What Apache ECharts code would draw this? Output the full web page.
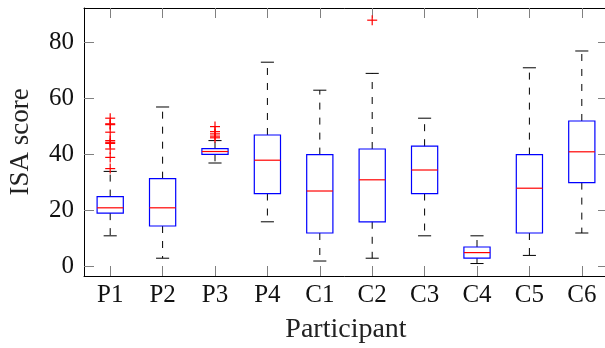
<!DOCTYPE html>
<html>
  <head>
    <title></title>
    <meta charset="UTF-8" />
    <script src="https://cdn.jsdelivr.net/npm/echarts@6/dist/echarts.min.js"></script>
    <style>
      html, body { margin: 0; padding: 0; background: #fff; }
    </style>
  </head>
  <body>
    <div id="main"></div>
    <script>
      const width = 605;
      const height = 348;
      const main = document.getElementById('main');
      main.style.width = `${width}px`;
      main.style.height = `${height}px`;

      const categories = ['P1', 'P2', 'P3', 'P4', 'C1', 'C2', 'C3', 'C4', 'C5', 'C6'];
      const lowWhisker = [11, 3, 37, 16, 2, 3, 11, 1.1, 4, 12];
      const q1 = [19.1, 14.5, 40.1, 26.1, 12, 16, 26.1, 3, 12, 30];
      const median = [21, 21, 41.1, 38, 27, 31, 34.5, 5, 28, 41];
      const q3 = [25, 31.4, 42.1, 47, 40, 42, 43, 7, 40, 52];
      const highWhisker = [34, 57, 45, 73, 63, 69, 53, 11, 71, 77];

      // fliers per participant
      const p1Outliers = [53, 51, 50.7, 48, 45, 44.4, 44, 42, 39, 35];
      const p3Outliers = [50, 48.2, 47.4, 46.6, 46];
      const c2Outliers = [88];

      const yTicks = [0, 20, 40, 60, 80];

      const boxData = categories.map((c, i) => [
        i, lowWhisker[i], q1[i], median[i], q3[i], highWhisker[i]
      ]);
      const outlierData = [];
      p1Outliers.forEach(v => outlierData.push([0, v]));
      p3Outliers.forEach(v => outlierData.push([2, v]));
      c2Outliers.forEach(v => outlierData.push([5, v]));

      const font = 'Liberation Serif';
      const tickColor = '#808080';
      const yMin = -3.35;
      const yMax = 92.35;

      function renderBox(params, api) {
        const idx = api.value(0);
        const band = api.size([1, 0])[0];
        const half = band * 0.25;
        const cap = band * 0.125;
        const pLow = api.coord([idx, api.value(1)]);
        const pQ1 = api.coord([idx, api.value(2)]);
        const pMed = api.coord([idx, api.value(3)]);
        const pQ3 = api.coord([idx, api.value(4)]);
        const pHigh = api.coord([idx, api.value(5)]);
        const x = pMed[0];
        const black = { stroke: '#000', lineWidth: 1 };
        const dashed = { stroke: '#000', lineWidth: 1, lineDash: [7, 8] };
        return {
          type: 'group',
          children: [
            { type: 'line', shape: { x1: x, y1: pQ3[1], x2: x, y2: pHigh[1] }, style: dashed },
            { type: 'line', shape: { x1: x, y1: pQ1[1], x2: x, y2: pLow[1] }, style: dashed },
            { type: 'line', shape: { x1: x - cap, y1: pHigh[1], x2: x + cap, y2: pHigh[1] }, style: black },
            { type: 'line', shape: { x1: x - cap, y1: pLow[1], x2: x + cap, y2: pLow[1] }, style: black },
            {
              type: 'rect',
              shape: { x: x - half, y: pQ3[1], width: half * 2, height: pQ1[1] - pQ3[1] },
              style: { fill: 'none', stroke: '#0000ff', lineWidth: 1.2 }
            },
            {
              type: 'line',
              shape: { x1: x - half, y1: pMed[1], x2: x + half, y2: pMed[1] },
              style: { stroke: '#ff0000', lineWidth: 1.2 }
            }
          ]
        };
      }

      function renderPlus(params, api) {
        const p = api.coord([api.value(0), api.value(1)]);
        const r = 5;
        const st = { stroke: '#ff0000', lineWidth: 1.2 };
        return {
          type: 'group',
          children: [
            { type: 'line', shape: { x1: p[0] - r, y1: p[1], x2: p[0] + r, y2: p[1] }, style: st },
            { type: 'line', shape: { x1: p[0], y1: p[1] - r, x2: p[0], y2: p[1] + r }, style: st }
          ]
        };
      }

      const myChart = echarts.init(main);
      const option = {
        animation: false,
        textStyle: { fontFamily: font, color: '#111' },
        grid: { left: 84, top: 8, width: 524, height: 268, outerBoundsMode: 'none' },
        xAxis: [
          {
            type: 'category',
            data: categories,
            position: 'bottom',
            name: 'Participant',
            nameLocation: 'middle',
            nameGap: 40,
            nameTextStyle: { fontFamily: font, fontSize: 28, color: '#222' },
            axisLine: { onZero: false, lineStyle: { color: '#000', width: 1 } },
            axisTick: { show: true, inside: true, length: 10, alignWithLabel: true, lineStyle: { color: tickColor, width: 1 } },
            axisLabel: { fontFamily: font, fontSize: 25, color: '#111', margin: 7 },
            splitLine: { show: false }
          },
          {
            type: 'category',
            data: categories,
            position: 'top',
            axisLine: { onZero: false, lineStyle: { color: '#000', width: 1 } },
            axisTick: { show: true, inside: true, length: 10, alignWithLabel: true, lineStyle: { color: tickColor, width: 1 } },
            axisLabel: { show: false },
            splitLine: { show: false }
          }
        ],
        yAxis: [
          {
            type: 'value',
            min: yMin,
            max: yMax,
            position: 'left',
            name: 'ISA score',
            nameLocation: 'middle',
            nameGap: 50,
            nameTextStyle: { fontFamily: font, fontSize: 27, color: '#222' },
            axisLine: { show: true, onZero: false, lineStyle: { color: '#000', width: 1 } },
            axisTick: { show: true, inside: true, length: 10, customValues: yTicks, lineStyle: { color: tickColor, width: 1 } },
            axisLabel: { fontFamily: font, fontSize: 25, color: '#111', margin: 10, customValues: yTicks },
            splitLine: { show: false }
          },
          {
            type: 'value',
            min: yMin,
            max: yMax,
            position: 'right',
            axisLine: { show: true, onZero: false, lineStyle: { color: '#000', width: 1 } },
            axisTick: { show: true, inside: true, length: 10, customValues: yTicks, lineStyle: { color: tickColor, width: 1 } },
            axisLabel: { show: false, customValues: yTicks },
            splitLine: { show: false }
          }
        ],
        series: [
          {
            type: 'custom',
            renderItem: renderBox,
            encode: { x: 0, y: [1, 2, 3, 4, 5] },
            data: boxData,
            z: 2
          },
          {
            type: 'custom',
            renderItem: renderPlus,
            encode: { x: 0, y: 1 },
            data: outlierData,
            z: 3
          }
        ]
      };
      myChart.setOption(option);
    </script>
  </body>
</html>
